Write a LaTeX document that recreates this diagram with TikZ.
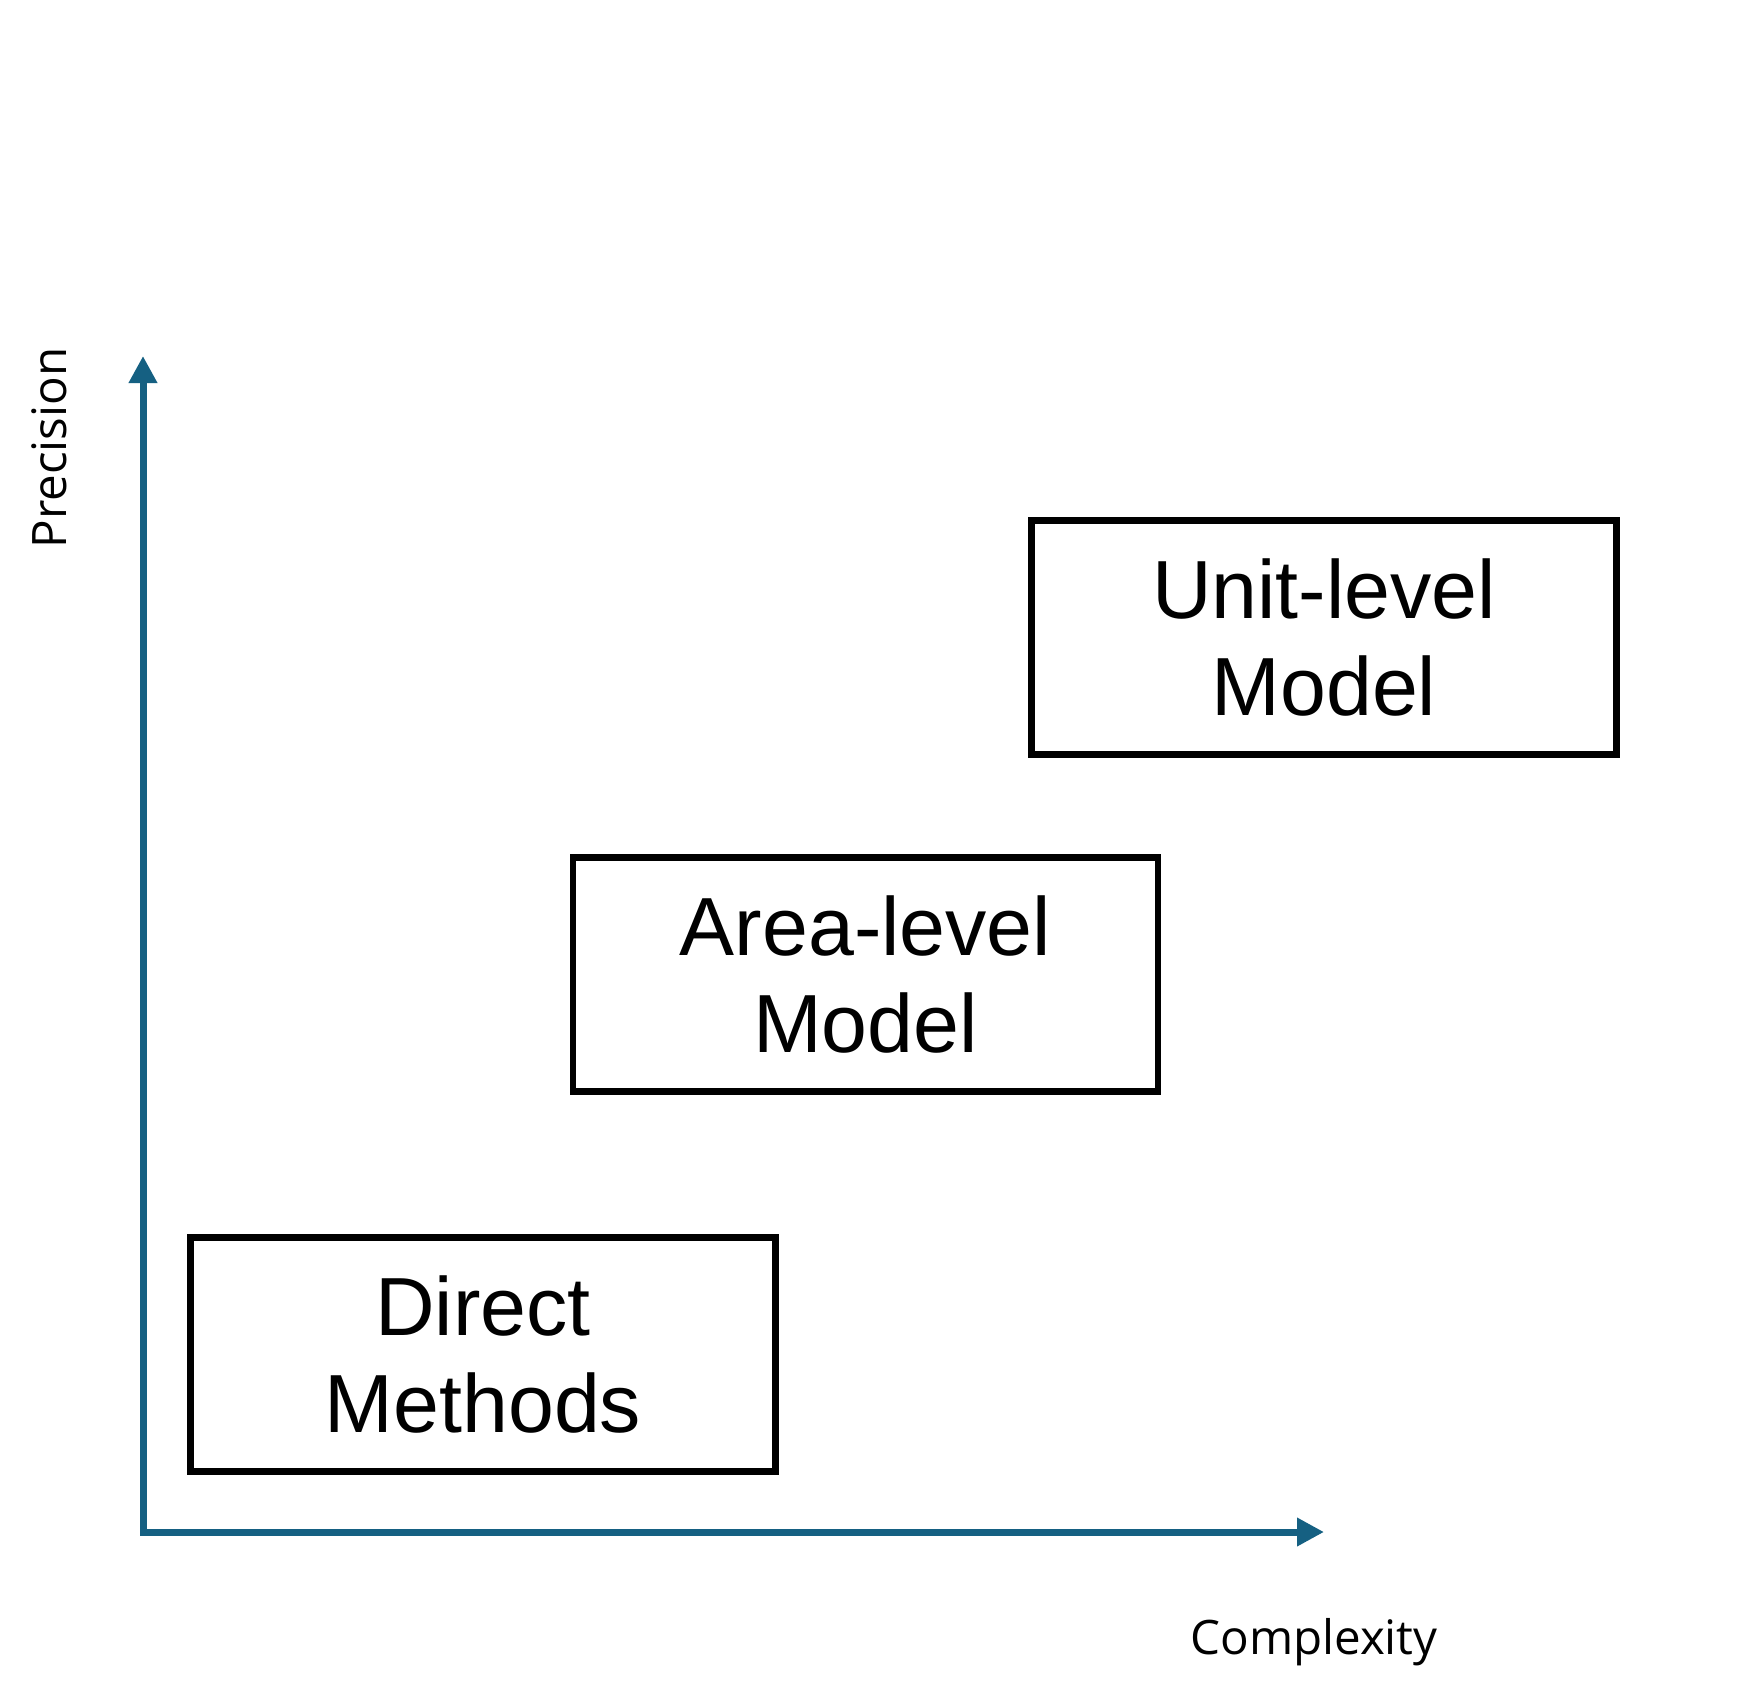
\documentclass[tikz,border=0pt]{standalone}
\usepackage{fontspec}
\setmainfont{Liberation Sans}
\newfontfamily\labelfont{Open Sans}
\usetikzlibrary{arrows.meta}
\definecolor{axisblue}{HTML}{156082}
\tikzset{
  methodbox/.style={draw=black, line width=6.5pt, minimum width=585pt, minimum height=234pt,
    inner sep=0pt, align=center, font=\fontsize{82.5}{97}\selectfont},
  axislabel/.style={font=\labelfont\fontsize{47.5}{50}\selectfont, inner sep=0pt},
  axisline/.style={draw=axisblue, line width=7pt, line join=miter,
    {Triangle[length=27pt,width=27pt]}-{Triangle[length=27pt,width=27pt]}}
}
\begin{document}
\begin{tikzpicture}[x=1pt,y=-1pt]
\fill[white] (0,0) rectangle (1746,1700);
\useasboundingbox (0,0) rectangle (1746,1700);
\coordinate (ytip) at (143,356);
\coordinate (origin) at (143,1532);
\coordinate (xtip) at (1324,1532);
\draw[axisline] (ytip) -- (origin) -- (xtip);
\node[axislabel, rotate=90, anchor=base] (prec) at (66,448) {Precision};
\node[axislabel, anchor=base] (comp) at (1314,1654) {Complexity};
\node[methodbox] (unit) at (1324,637.5) {Unit-level\\Model};
\node[methodbox] (area) at (865.5,974.5) {Area-level\\Model};
\node[methodbox] (direct) at (483,1354.5) {Direct\\Methods};
\end{tikzpicture}
\end{document}
